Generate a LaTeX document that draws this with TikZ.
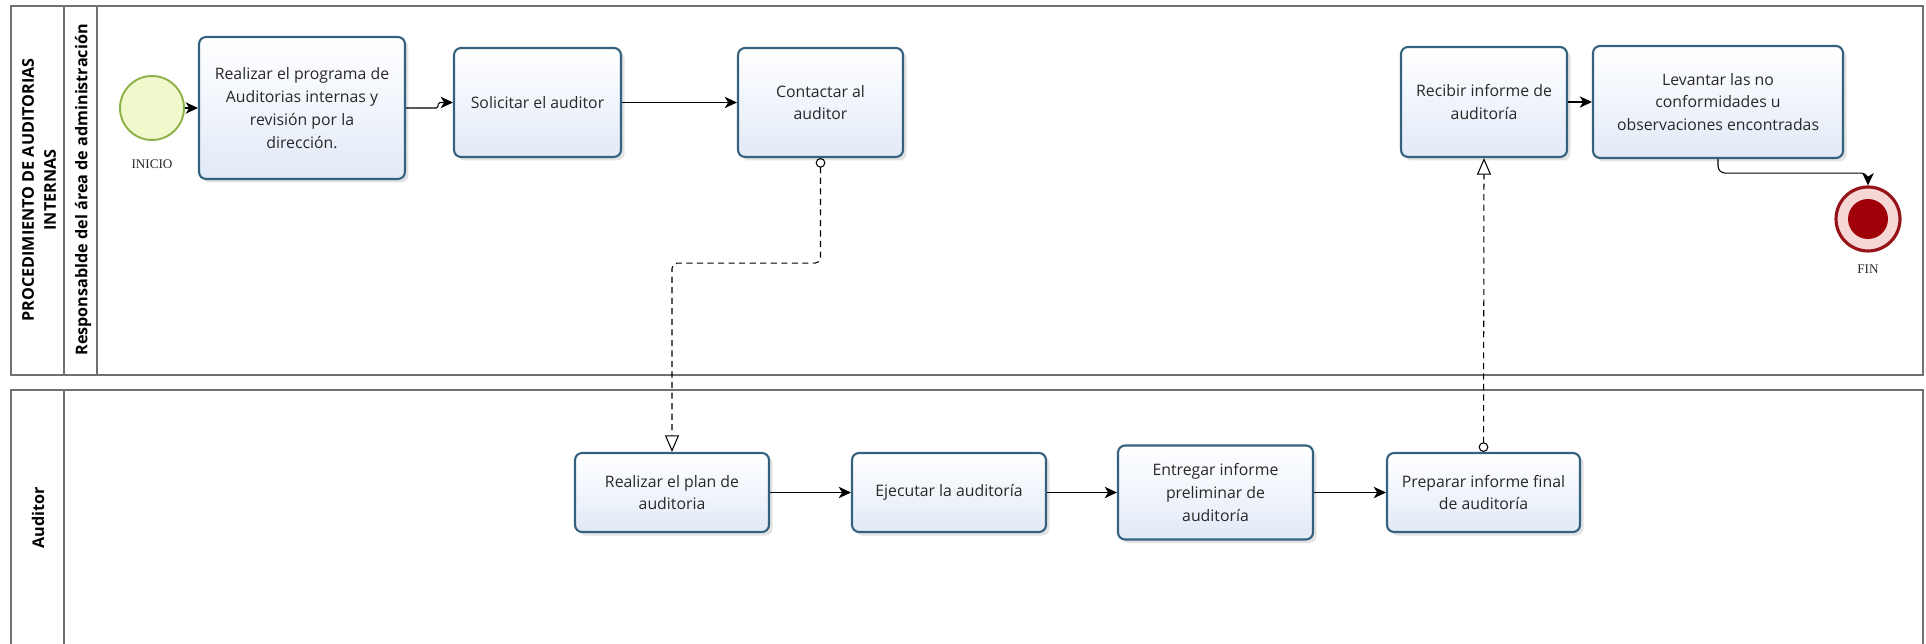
\documentclass[tikz,border=0pt]{standalone}
\usepackage{fontspec}
\setmainfont{Open Sans}
\newfontfamily\evfont{Liberation Serif}
\usepackage{tikz}
\usetikzlibrary{arrows.meta, shadows}

\definecolor{gris}{RGB}{112,112,112}
\definecolor{texto}{RGB}{40,40,40}
\definecolor{tareaborde}{RGB}{52,98,126}
\definecolor{tareafondo}{RGB}{226,234,247}
\definecolor{inifondo}{RGB}{240,248,204}
\definecolor{iniborde}{RGB}{140,178,72}
\definecolor{finborde}{RGB}{150,20,25}
\definecolor{finfondo}{RGB}{247,214,214}
\definecolor{finnucleo}{RGB}{160,0,8}

\begin{document}
\begin{tikzpicture}[x=0.02cm, y=-0.02cm, >={Stealth[length=7pt, width=6.5pt, inset=2pt]}, semithick,
    pool/.style={draw=gris, line width=0.9pt},
    rotulo/.style={rotate=90, align=center, font=\bfseries\fontsize{9.2}{12.5}\selectfont},
    tarea/.style={draw=tareaborde, line width=1.2pt, rounded corners=4pt,
        top color=white, bottom color=tareafondo, align=center, inner sep=2pt,
        drop shadow={opacity=0.22, shadow xshift=2pt, shadow yshift=-2pt},
        text=texto, font=\fontsize{9}{13}\selectfont},
    inicio/.style={circle, draw=iniborde, line width=1.1pt, fill=inifondo, minimum size=1.28cm},
    finevento/.style={circle, draw=finborde, line width=1.8pt, fill=finfondo, minimum size=1.28cm},
    evento/.style={text=texto, font=\evfont\fontsize{7.5}{9}\selectfont},
    mensaje/.style={{Circle[open, length=5.5pt]}-{Triangle[open, length=9.5pt, width=8pt]},
        dash pattern=on 3.5pt off 2.5pt}]

    \useasboundingbox (0,0) rectangle (1926,644);

    % pools y carriles
    \draw[pool] (11,6) rectangle (1923,375);
    \draw[pool] (64,6) -- (64,375) (97,6) -- (97,375);
    \draw[pool] (11,644) -- (11,390) -- (1923,390) -- (1923,644) (64,390) -- (64,644);
    \node[rotulo] (pool1) at (39,190) {PROCEDIMIENTO DE AUDITORIAS\\INTERNAS};
    \node[rotulo] (carril1) at (83,190) {Responsablde del área de administración};
    \node[rotulo] (pool2) at (38,518) {Auditor};

    % eventos
    \node[inicio, label={[evento, label distance=0.25cm]below:INICIO}] (ini) at (152,108) {};
    \node[finevento, label={[evento, label distance=0.12cm]below:FIN}] (fin) at (1868,219) {};
    \fill[finnucleo] (fin) circle (0.4cm);

    % tareas
    \node[tarea, minimum width=4.12cm, minimum height=2.84cm] (prog) at (302,108)
        {Realizar el programa de\\Auditorias internas y\\revisión por la\\dirección.};
    \node[tarea, minimum width=3.34cm, minimum height=2.18cm] (sol) at (537.5,102.5) {Solicitar el auditor};
    \node[tarea, minimum width=3.3cm, minimum height=2.18cm] (cont) at (820.5,102.5) {Contactar al\\auditor};
    \node[tarea, minimum width=3.32cm, minimum height=2.2cm] (rec) at (1484,102) {Recibir informe de\\auditoría};
    \node[tarea, minimum width=5cm, minimum height=2.24cm] (lev) at (1718,102)
        {Levantar las no\\conformidades u\\observaciones encontradas};
    \node[tarea, minimum width=3.88cm, minimum height=1.58cm] (plan) at (672,492.5) {Realizar el plan de\\auditoria};
    \node[tarea, minimum width=3.88cm, minimum height=1.58cm] (ejec) at (949,492.5) {Ejecutar la auditoría};
    \node[tarea, minimum width=3.9cm, minimum height=1.88cm] (entr) at (1215.5,492.5) {Entregar informe\\preliminar de\\auditoría};
    \node[tarea, minimum width=3.86cm, minimum height=1.58cm] (prep) at (1483.5,492.5) {Preparar informe final\\de auditoría};

    % flujos
    \draw[->] (ini) edge (prog)
        (sol) edge (cont)
        (rec) edge (lev)
        (plan) edge (ejec)
        (ejec) edge (entr)
        (entr) edge (prep);
    \draw[->, rounded corners=1pt] (prog.east) -- ++(32,0) |- (sol.west);
    \draw[->, rounded corners=4pt] (lev.south) -- ++(0,14) -| (fin.north);
    \draw[mensaje, rounded corners=3pt] (cont.south) -- ++(0,105) -| (plan.north);
    \draw[mensaje] (prep.north) -- (rec.south);
\end{tikzpicture}
\end{document}
